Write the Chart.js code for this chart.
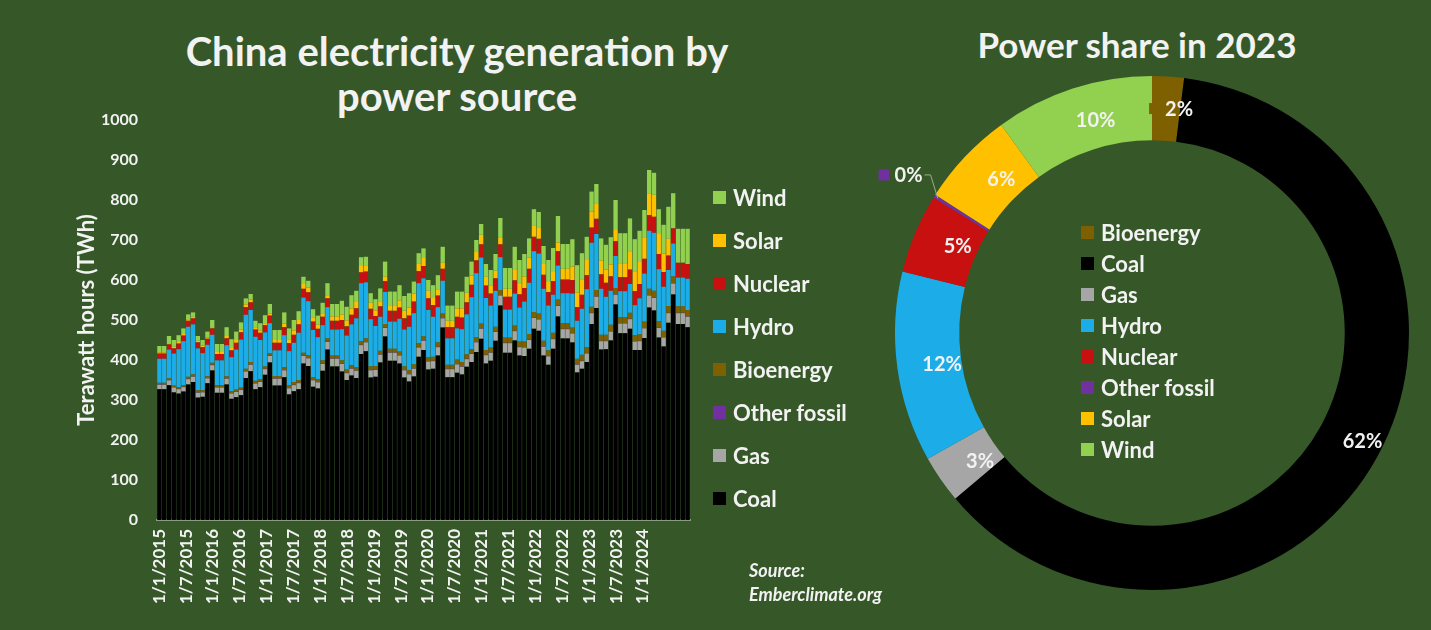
<!DOCTYPE html>
<html lang="en">
<head>
  <meta charset="UTF-8" />
  <title>China electricity generation by power source</title>
  <script src="https://cdn.jsdelivr.net/npm/chart.js"></script>
  <style>
    body {
      margin: 0;
      background: #365829;
      font-family: Lato, "Open Sans", sans-serif;
      color: #f2f2f2;
    }
    .page {
      position: relative;
      width: 1431px;
      height: 630px;
      overflow: hidden;
      background: #365829;
    }
    canvas { position: absolute; }
    .title {
      position: absolute;
      text-align: center;
      font-weight: bold;
      white-space: nowrap;
    }
    .legend {
      position: absolute;
      font-weight: bold;
      white-space: nowrap;
    }
    .legend div { display: flex; align-items: center; }
    .legend span.key {
      display: inline-block;
      width: 13px;
      height: 13px;
      margin-right: 7px;
    }
    .source {
      position: absolute;
      left: 749px;
      top: 558px;
      font-size: 18px;
      font-weight: bold;
      font-style: italic;
      line-height: 24px;
    }
  </style>
</head>
<body>
<div class="page">
  <div class="title" style="left:0; width:914px; top:29px; font-size:40px; line-height:45px;">China electricity generation by<br>power source</div>
  <div class="title" style="left:937px; width:400px; top:24px; font-size:35px; line-height:40px;">Power share in 2023</div>

  <canvas id="bars" width="700" height="630" style="left:0; top:0;"></canvas>
  <canvas id="share" width="585" height="560" style="left:846px; top:60px;"></canvas>

  <div class="legend" id="barLegend" style="left:713px; top:176px; font-size:22px; line-height:43px;"></div>
  <div class="legend" id="shareLegend" style="left:1081px; top:217px; font-size:22px; line-height:31px;"></div>

  <div class="source">Source:<br>Emberclimate.org</div>
</div>

<script>
// monthly TWh, Jan 2015 .. Mar 2024
const coal = [
  327, 327, 337, 319, 316, 321, 339, 345, 306, 308, 342, 374,
  318, 318, 339, 303, 307, 312, 355, 372, 327, 332, 363, 394,
  336, 336, 357, 314, 322, 327, 391, 385, 333, 329, 373, 426,
  384, 384, 371, 350, 361, 355, 415, 422, 356, 358, 394, 459,
  398, 398, 391, 356, 346, 359, 408, 425, 376, 378, 411, 481,
  357, 357, 368, 364, 383, 395, 420, 453, 391, 398, 448, 536,
  418, 418, 449, 411, 410, 428, 478, 473, 411, 388, 428, 509,
  454, 454, 444, 369, 378, 395, 490, 530, 426, 427, 449, 539,
  467, 467, 478, 425, 425, 455, 531, 524, 456, 434, 493, 564,
  490, 490, 482
];
const gas = [
  11, 11, 12, 12, 11, 11, 13, 13, 12, 11, 12, 13,
  13, 13, 14, 13, 13, 13, 16, 16, 14, 13, 14, 16,
  17, 17, 17, 15, 15, 15, 19, 19, 16, 15, 17, 19,
  19, 19, 19, 17, 17, 18, 22, 22, 18, 17, 19, 21,
  20, 20, 20, 18, 18, 19, 23, 23, 20, 19, 21, 23,
  20, 20, 21, 19, 19, 20, 24, 25, 21, 20, 22, 25,
  24, 24, 23, 21, 21, 22, 27, 28, 22, 21, 24, 26,
  23, 23, 22, 19, 19, 21, 27, 28, 21, 20, 22, 24,
  24, 24, 24, 21, 22, 24, 30, 31, 24, 22, 24, 27,
  27, 27, 26
];
const otherFossil = [
  1, 1, 1, 1, 1, 1, 1, 1, 1, 1, 1, 1,
  1, 1, 1, 1, 1, 1, 1, 1, 1, 1, 1, 1,
  1, 1, 1, 1, 1, 1, 1, 1, 1, 1, 1, 1,
  1, 1, 1, 1, 1, 1, 1, 1, 1, 1, 1, 1,
  1, 1, 1, 1, 1, 1, 1, 1, 1, 1, 1, 1,
  1, 1, 1, 1, 1, 1, 1, 1, 1, 1, 1, 1,
  1, 1, 1, 1, 1, 1, 1, 1, 1, 1, 1, 1,
  1, 1, 1, 1, 1, 1, 1, 1, 1, 1, 1, 1,
  1, 1, 1, 1, 1, 1, 1, 1, 1, 1, 1, 1,
  1, 1, 1
];
const bioenergy = [
  4, 4, 4, 4, 4, 4, 5, 5, 5, 5, 5, 5,
  5, 5, 5, 5, 5, 5, 6, 6, 6, 6, 6, 6,
  6, 6, 7, 7, 7, 7, 7, 7, 7, 7, 8, 8,
  7, 7, 8, 8, 8, 8, 9, 9, 9, 9, 9, 9,
  9, 9, 9, 9, 10, 10, 10, 10, 10, 10, 11, 11,
  10, 10, 11, 11, 11, 11, 12, 12, 12, 12, 12, 13,
  13, 13, 13, 13, 14, 14, 14, 14, 14, 14, 15, 15,
  14, 14, 14, 14, 15, 15, 15, 16, 15, 15, 16, 16,
  15, 15, 15, 15, 16, 16, 16, 17, 16, 16, 17, 17,
  16, 16, 16
];
const hydro = [
  60, 60, 72, 80, 95, 110, 125, 125, 105, 92, 78, 70,
  62, 62, 78, 85, 100, 120, 135, 130, 110, 98, 85, 75,
  64, 64, 80, 85, 98, 118, 138, 135, 118, 105, 88, 78,
  65, 65, 78, 85, 102, 122, 145, 140, 118, 100, 85, 80,
  68, 68, 82, 92, 108, 128, 150, 145, 118, 100, 88, 82,
  66, 66, 78, 82, 100, 130, 160, 165, 130, 105, 90, 82,
  70, 70, 80, 85, 100, 128, 152, 150, 130, 112, 95, 85,
  75, 75, 85, 95, 115, 145, 160, 140, 115, 95, 85, 80,
  65, 65, 72, 75, 90, 120, 145, 145, 130, 110, 90, 82,
  72, 72, 78
];
const nuclear = [
  13, 13, 13, 13, 14, 14, 15, 15, 15, 15, 15, 16,
  16, 16, 17, 17, 17, 18, 19, 19, 18, 18, 18, 19,
  19, 19, 20, 20, 20, 21, 22, 22, 21, 21, 21, 22,
  22, 22, 23, 23, 24, 25, 27, 27, 26, 25, 26, 27,
  27, 27, 28, 28, 28, 29, 30, 31, 29, 29, 29, 30,
  28, 28, 29, 29, 30, 31, 32, 33, 31, 30, 31, 32,
  32, 32, 33, 33, 34, 35, 36, 37, 35, 34, 34, 36,
  34, 34, 34, 34, 35, 35, 38, 38, 36, 35, 36, 37,
  35, 35, 36, 35, 36, 37, 39, 40, 38, 37, 36, 38,
  37, 37, 37
];
const solar = [
  3, 3, 3, 4, 4, 4, 4, 4, 4, 4, 3, 3,
  5, 5, 6, 6, 7, 7, 7, 7, 6, 6, 5, 5,
  7, 7, 9, 10, 11, 11, 12, 12, 11, 10, 9, 8,
  11, 11, 14, 15, 16, 16, 16, 16, 15, 14, 13, 12,
  14, 14, 18, 19, 20, 20, 20, 20, 19, 18, 16, 15,
  16, 16, 21, 23, 24, 23, 23, 24, 22, 21, 19, 18,
  20, 20, 26, 28, 29, 28, 29, 29, 27, 25, 23, 22,
  27, 27, 34, 37, 39, 38, 40, 39, 35, 33, 30, 28,
  35, 35, 46, 50, 55, 54, 55, 55, 50, 46, 42, 0,
  0, 0, 0
];
const wind = [
  16, 16, 18, 17, 17, 14, 12, 11, 12, 14, 15, 18,
  20, 20, 22, 22, 21, 18, 15, 14, 16, 18, 20, 24,
  25, 25, 28, 27, 26, 22, 18, 17, 20, 23, 26, 30,
  31, 31, 34, 34, 33, 28, 22, 21, 24, 28, 32, 37,
  34, 34, 38, 37, 36, 30, 25, 24, 27, 32, 35, 40,
  38, 38, 42, 42, 40, 35, 28, 27, 32, 38, 42, 48,
  52, 52, 58, 58, 56, 48, 40, 38, 45, 55, 60, 66,
  62, 62, 68, 68, 65, 58, 50, 48, 55, 62, 68, 75,
  75, 75, 82, 80, 78, 68, 58, 55, 62, 72, 80, 88,
  85, 85, 88
];

// x-axis labels printed every six months
const tickLabels = [
  '1/1/2015', '1/7/2015', '1/1/2016', '1/7/2016', '1/1/2017', '1/7/2017',
  '1/1/2018', '1/7/2018', '1/1/2019', '1/7/2019', '1/1/2020', '1/7/2020',
  '1/1/2021', '1/7/2021', '1/1/2022', '1/7/2022', '1/1/2023', '1/7/2023',
  '1/1/2024'
];

// 2023 share (%)
const shareNames = ['Bioenergy', 'Coal', 'Gas', 'Hydro', 'Nuclear', 'Other fossil', 'Solar', 'Wind'];
const shareValues = [2, 62, 3, 12, 5, 0.2, 6, 10];

const colors = {
  'Coal': '#000000',
  'Gas': '#a6a6a6',
  'Other fossil': '#7030a0',
  'Bioenergy': '#7f6000',
  'Hydro': '#1cade8',
  'Nuclear': '#c81010',
  'Solar': '#ffc000',
  'Wind': '#92d050'
};

const months = [];
for (let y = 2015; months.length < coal.length; y++) {
  for (let m = 1; m <= 12 && months.length < coal.length; m++) months.push('1/' + m + '/' + y);
}

const textColor = '#f2f2f2';
const boldFont = size => ({ family: 'Lato', size: size, weight: 'bold' });

const series = [
  ['Coal', coal], ['Gas', gas], ['Other fossil', otherFossil], ['Bioenergy', bioenergy],
  ['Hydro', hydro], ['Nuclear', nuclear], ['Solar', solar], ['Wind', wind]
];

new Chart(document.getElementById('bars'), {
  type: 'bar',
  data: {
    labels: months,
    datasets: series.map(([name, values]) => ({
      label: name,
      data: values,
      backgroundColor: colors[name],
      borderWidth: 0,
      categoryPercentage: 1,
      barPercentage: 0.9
    }))
  },
  options: {
    responsive: false,
    animation: false,
    layout: { padding: { top: 120, right: 10, left: 0, bottom: 0 } },
    plugins: { legend: { display: false }, tooltip: { enabled: false } },
    scales: {
      x: { stacked: true, display: false },
      // separate axis that only carries the half-year date labels
      xl: {
        type: 'linear',
        position: 'bottom',
        offset: false,
        min: -0.5,
        max: 118.5,
        afterBuildTicks: s => { s.ticks = tickLabels.map((t, k) => ({ value: k * 6 })); },
        afterFit: s => { s.height = 110; },
        grid: { display: false, drawTicks: false },
        border: { color: '#8d9a84', width: 2 },
        ticks: {
          autoSkip: false,
          minRotation: 90,
          maxRotation: 90,
          padding: 9,
          color: textColor,
          font: boldFont(17),
          callback: (v, i) => tickLabels[i]
        }
      },
      y: {
        stacked: true,
        min: 0,
        max: 1000,
        afterFit: s => { s.width = 157; },
        grid: { display: false },
        border: { display: false },
        ticks: { stepSize: 100, padding: 11, color: textColor, font: boldFont(16), callback: v => String(v) },
        title: {
          display: true,
          text: 'Terawatt hours (TWh)',
          color: textColor,
          font: boldFont(22),
          padding: { top: 74, bottom: 0 }
        }
      }
    }
  }
});

// percentage labels with a small colour key, like the spreadsheet data labels
const sliceLabels = {
  id: 'sliceLabels',
  afterDatasetsDraw(chart) {
    const ctx = chart.ctx;
    const meta = chart.getDatasetMeta(0);
    ctx.save();
    ctx.font = 'bold 20px Lato';
    ctx.textBaseline = 'middle';
    ctx.textAlign = 'left';
    meta.data.forEach((arc, i) => {
      const v = shareValues[i];
      const txt = Math.round(v) + '%';
      const mid = (arc.startAngle + arc.endAngle) / 2;
      const outside = v < 1;
      const r = outside ? arc.outerRadius + 40 : (arc.innerRadius + arc.outerRadius) / 2;
      const cx = arc.x + Math.cos(mid) * r + (outside ? 0 : 5);
      const cy = arc.y + Math.sin(mid) * r;
      const tw = ctx.measureText(txt).width;
      const x0 = cx - (11 + 5 + tw) / 2;
      ctx.fillStyle = colors[shareNames[i]];
      ctx.fillRect(x0, cy - 5.5, 11, 11);
      ctx.fillStyle = textColor;
      ctx.fillText(txt, x0 + 16, cy + 1);
      if (outside) {
        const ex = arc.x + Math.cos(mid) * (arc.outerRadius - 4);
        const ey = arc.y + Math.sin(mid) * (arc.outerRadius - 4);
        ctx.strokeStyle = '#a0a89a';
        ctx.lineWidth = 1;
        ctx.beginPath();
        ctx.moveTo(x0 + 18 + tw, cy);
        ctx.lineTo(x0 + 24 + tw, cy);
        ctx.lineTo(ex, ey);
        ctx.stroke();
      }
    });
    ctx.restore();
  }
};

new Chart(document.getElementById('share'), {
  type: 'doughnut',
  data: {
    labels: shareNames,
    datasets: [{
      data: shareValues,
      backgroundColor: shareNames.map(n => colors[n]),
      borderWidth: 0
    }]
  },
  options: {
    responsive: false,
    animation: false,
    cutout: '75%',
    layout: { padding: { left: 49, top: 16, right: 22, bottom: 30 } },
    plugins: { legend: { display: false }, tooltip: { enabled: false } }
  },
  plugins: [sliceLabels]
});

function fillLegend(id, names) {
  const box = document.getElementById(id);
  names.forEach(n => {
    const row = document.createElement('div');
    const key = document.createElement('span');
    key.className = 'key';
    key.style.background = colors[n];
    row.appendChild(key);
    row.appendChild(document.createTextNode(n));
    box.appendChild(row);
  });
}
fillLegend('barLegend', series.map(s => s[0]).reverse());
fillLegend('shareLegend', shareNames);
</script>
</body>
</html>
